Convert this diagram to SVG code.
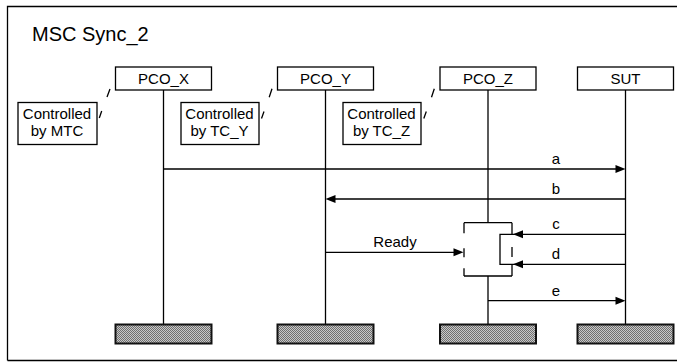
<svg xmlns="http://www.w3.org/2000/svg" width="677" height="362" viewBox="0 0 677 362">
  <style>
    .ln { stroke: #000; stroke-width: 1.3; fill: none; }
    .box { stroke: #000; stroke-width: 1.3; fill: #fff; }
    .end { stroke: #111; stroke-width: 2; fill: url(#dots); }
    .t { font-family: "Liberation Sans", Arial, sans-serif; font-size: 15px; fill: #000; text-anchor: middle; }
    .title { font-family: "Liberation Sans", Arial, sans-serif; font-size: 20px; fill: #000; }
    .head { fill: #000; stroke: none; }
  </style>
  <defs>
    <!-- fine checker used for instance end symbols -->
    <pattern id="dots" width="2" height="2" patternUnits="userSpaceOnUse">
      <rect width="2" height="2" fill="#c8c8c8"/>
      <rect width="1" height="1" fill="#707070"/>
      <rect x="1" y="1" width="1" height="1" fill="#707070"/>
    </pattern>
  </defs>

  <!-- diagram frame -->
  <g id="frame">
    <path class="ln" d="M7.5,360.5 V6.5 H690 M7.5,360.5 H690"/>
    <text class="title" x="32" y="40.5">MSC Sync_2</text>
  </g>

  <!-- instances -->
  <g id="pco_x">
    <rect class="box" x="115.5" y="67" width="96" height="23"/>
    <text class="t" x="163.5" y="83.5">PCO_X</text>
    <line class="ln" x1="163.5" y1="90" x2="163.5" y2="324"/>
    <rect class="end" x="115.5" y="324.5" width="96" height="19"/>
  </g>
  <g id="pco_y">
    <rect class="box" x="277.5" y="67" width="96" height="23"/>
    <text class="t" x="325.5" y="83.5">PCO_Y</text>
    <line class="ln" x1="325.5" y1="90" x2="325.5" y2="324"/>
    <rect class="end" x="277.5" y="324.5" width="96" height="19"/>
  </g>
  <g id="pco_z">
    <rect class="box" x="440" y="67" width="96" height="23"/>
    <text class="t" x="488" y="83.5">PCO_Z</text>
    <line class="ln" x1="488" y1="90" x2="488" y2="222.7"/>
    <line class="ln" x1="488" y1="276" x2="488" y2="324"/>
    <rect class="end" x="440" y="324.5" width="96" height="19"/>
  </g>
  <g id="sut">
    <rect class="box" x="577.5" y="67" width="96" height="23"/>
    <text class="t" x="625.5" y="83.5">SUT</text>
    <line class="ln" x1="625.5" y1="90" x2="625.5" y2="324"/>
    <rect class="end" x="577.5" y="324.5" width="96" height="19"/>
  </g>

  <!-- coregion on PCO_Z -->
  <g id="coregion">
    <path class="ln" d="M464,222.7 H512 M464,276 H512"/>
    <path class="ln" d="M464,222.7 V233.3 M464,248.3 V257.3 M464,268.3 V276"/>
    <path class="ln" d="M512,222.7 V234 M512,247 V257 M512,264 V276"/>
  </g>

  <!-- comments -->
  <g id="comment_mtc">
    <rect class="box" x="18" y="102.5" width="79" height="42"/>
    <text class="t" x="57" y="118.5">Controlled</text>
    <text class="t" x="57" y="135.5">by MTC</text>
    <path class="ln" d="M99.3,118 L101.7,111 M107,97 L110,89"/>
  </g>
  <g id="comment_tc_y">
    <rect class="box" x="181" y="102.5" width="78" height="42"/>
    <text class="t" x="219.5" y="118.5">Controlled</text>
    <text class="t" x="219.5" y="135.5">by TC_Y</text>
    <path class="ln" d="M261.5,118.5 L264,111.5 M269.2,97.2 L272,88.7"/>
  </g>
  <g id="comment_tc_z">
    <rect class="box" x="343" y="102.5" width="78" height="42"/>
    <text class="t" x="381.5" y="118.5">Controlled</text>
    <text class="t" x="381.5" y="135.5">by TC_Z</text>
    <path class="ln" d="M423.8,118.5 L426.3,111.5 M431.5,97.2 L434.3,88.7"/>
  </g>

  <!-- messages -->
  <g id="connectors">
    <line class="ln" x1="163.5" y1="169" x2="617" y2="169"/>
    <path class="head" d="M625.5,169 L615.5,165 L615.5,173 Z"/>
    <text class="t" x="556" y="163.5">a</text>

    <line class="ln" x1="625.5" y1="199" x2="334" y2="199"/>
    <path class="head" d="M325.5,199 L335.5,195 L335.5,203 Z"/>
    <text class="t" x="556" y="193.5">b</text>

    <line class="ln" x1="325.5" y1="252.3" x2="455" y2="252.3"/>
    <path class="head" d="M463.5,252.3 L453.5,248.3 L453.5,256.3 Z"/>
    <text class="t" x="395" y="247.3">Ready</text>

    <path class="ln" d="M625.5,234.3 H500 V264.3 H625.5"/>
    <path class="head" d="M513,234.3 L523,230.3 L523,238.3 Z"/>
    <path class="head" d="M513,264.3 L523,260.3 L523,268.3 Z"/>
    <text class="t" x="556" y="229.3">c</text>
    <text class="t" x="556" y="259.3">d</text>

    <line class="ln" x1="488" y1="300.7" x2="617" y2="300.7"/>
    <path class="head" d="M625.5,300.7 L615.5,296.7 L615.5,304.7 Z"/>
    <text class="t" x="556" y="295.7">e</text>
  </g>
</svg>
